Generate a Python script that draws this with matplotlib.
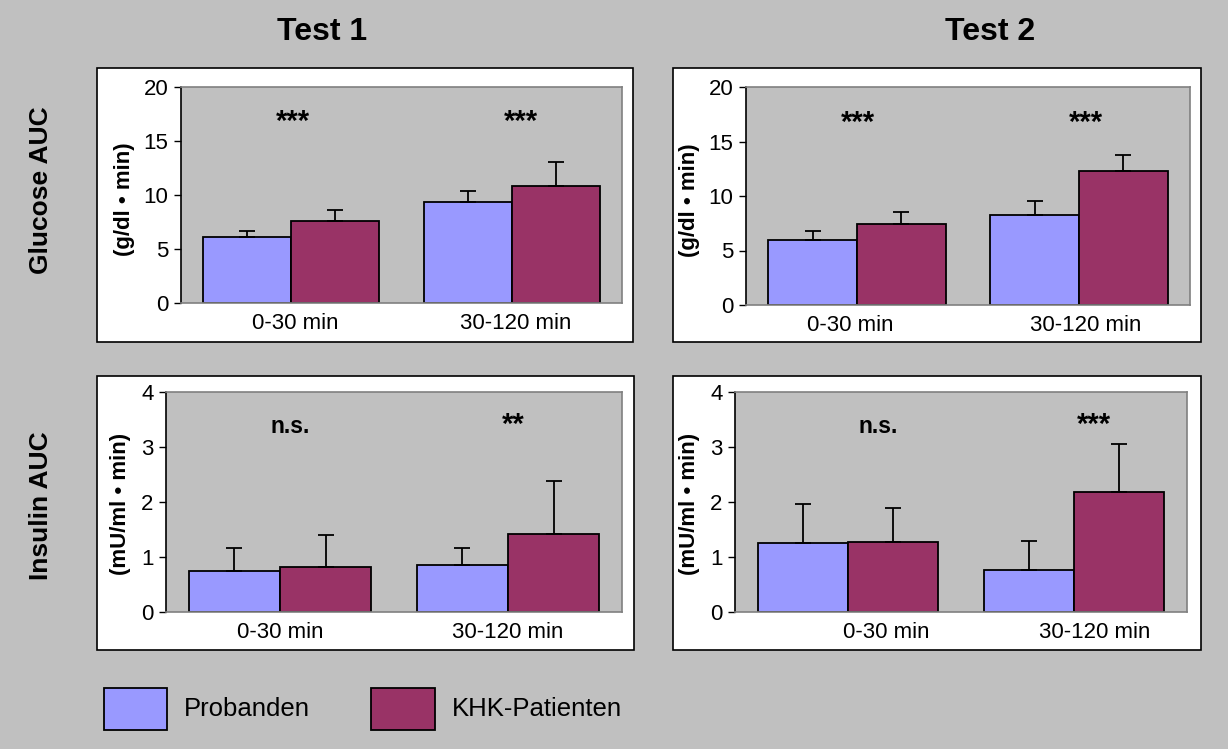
import numpy as np
import matplotlib
matplotlib.use('Agg')
import matplotlib.pyplot as plt
from matplotlib.patches import Rectangle
import matplotlib.transforms as mtransforms

plt.rcParams['font.family'] = ['Liberation Sans', 'DejaVu Sans']

# data
categories = ['0-30 min', '30-120 min']
groups = ['Probanden', 'KHK-Patienten']

glucose_t1_prob = [6.1, 9.35]
glucose_t1_prob_err = [0.6, 1.05]
glucose_t1_khk = [7.55, 10.85]
glucose_t1_khk_err = [1.05, 2.2]

glucose_t2_prob = [6.0, 8.3]
glucose_t2_prob_err = [0.75, 1.2]
glucose_t2_khk = [7.45, 12.25]
glucose_t2_khk_err = [1.05, 1.5]

insulin_t1_prob = [0.75, 0.85]
insulin_t1_prob_err = [0.41, 0.31]
insulin_t1_khk = [0.82, 1.42]
insulin_t1_khk_err = [0.58, 0.97]

insulin_t2_prob = [1.25, 0.76]
insulin_t2_prob_err = [0.71, 0.53]
insulin_t2_khk = [1.28, 2.18]
insulin_t2_khk_err = [0.62, 0.88]

sig_glucose_t1 = ['***', '***']
sig_glucose_t2 = ['***', '***']
sig_insulin_t1 = ['n.s.', '**']
sig_insulin_t2 = ['n.s.', '***']

BG = '#C0C0C0'
C_PROB = '#9999FF'
C_KHK = '#993366'

W, H = 1228, 749
fig = plt.figure(figsize=(W / 100, H / 100), dpi=100)
fig.patch.set_facecolor(BG)


def frac(x0, y0, x1, y1):
    # pixel box (top-left origin) -> figure fraction rect
    return [x0 / W, 1 - y1 / H, (x1 - x0) / W, (y1 - y0) / H]


def panel(frame, plot, prob, prob_err, khk, khk_err, sig, ymax, ystep, ylabel,
          label_x, label_y, sig_y, shift_tick, shift_sig):
    r = frac(*frame)
    fig.patches.append(Rectangle((r[0], r[1]), r[2], r[3], transform=fig.transFigure,
                                 facecolor='white', edgecolor='black', lw=1.2, zorder=-5))
    ax = fig.add_axes(frac(*plot))
    ax.set_facecolor(BG)
    x = np.arange(len(categories))
    w = 0.4
    ax.bar(x - w / 2, prob, w, color=C_PROB, edgecolor='black', lw=1.3, zorder=2)
    ax.bar(x + w / 2, khk, w, color=C_KHK, edgecolor='black', lw=1.3, zorder=2)
    ax.errorbar(x - w / 2, prob, yerr=[np.zeros(2), prob_err], fmt='none',
                ecolor='black', elinewidth=1.3, capsize=6, capthick=1.3, zorder=3)
    ax.errorbar(x + w / 2, khk, yerr=[np.zeros(2), khk_err], fmt='none',
                ecolor='black', elinewidth=1.3, capsize=6, capthick=1.3, zorder=3)
    ax.set_xlim(-0.5, len(categories) - 0.5)
    ax.set_ylim(0, ymax)
    ax.set_yticks(np.arange(0, ymax + ystep / 2, ystep))
    # excel placed the category labels a bit off-centre in some panels
    px_per_cat = (plot[2] - plot[0]) / len(categories)
    ax.set_xticks(x + np.array(shift_tick) / px_per_cat)
    ax.set_xticklabels(categories, fontsize=16)
    ax.tick_params(axis='x', length=0, pad=7)
    ax.tick_params(axis='y', length=5, width=1, direction='out', labelsize=16, pad=4)
    for s in ['top', 'right', 'bottom']:
        ax.spines[s].set_color('#808080')
        ax.spines[s].set_linewidth(1.2)
    ax.spines['left'].set_color('black')
    ax.spines['left'].set_linewidth(1.2)
    ax.set_ylabel(ylabel, fontsize=16, fontweight='bold')
    ax.yaxis.set_label_coords(label_x / W, label_y,
                              transform=mtransforms.blended_transform_factory(fig.transFigure, ax.transAxes))
    for xi, s, dx in zip(x, sig, shift_sig):
        fs = 21 if s.startswith('*') else 16.5
        ax.annotate(s, (xi, sig_y), xytext=(dx * 0.72, 0), textcoords='offset points',
                    ha='center', va='baseline', fontsize=fs, fontweight='bold')
    return ax


panel((97, 68, 633, 342), (181, 87, 622, 303),
      glucose_t1_prob, glucose_t1_prob_err, glucose_t1_khk, glucose_t1_khk_err,
      sig_glucose_t1, 20, 5, '(g/dl \u2022 min)', 135, 0.48, 16.0, (4, 4), (2, 9))
panel((673, 68, 1201, 342), (746, 87, 1190, 305),
      glucose_t2_prob, glucose_t2_prob_err, glucose_t2_khk, glucose_t2_khk_err,
      sig_glucose_t2, 20, 5, '(g/dl \u2022 min)', 700, 0.48, 16.0, (-7, 7), (1, 7))
panel((97, 376, 634, 650), (166, 392, 622, 612),
      insulin_t1_prob, insulin_t1_prob_err, insulin_t1_khk, insulin_t1_khk_err,
      sig_insulin_t1, 4, 1, '(mU/ml \u2022 min)', 131, 0.49, 3.25, (0, 0), (10, 5))
panel((673, 376, 1201, 650), (735, 392, 1187, 612),
      insulin_t2_prob, insulin_t2_prob_err, insulin_t2_khk, insulin_t2_khk_err,
      sig_insulin_t2, 4, 1, '(mU/ml \u2022 min)', 700, 0.49, 3.25, (38, 21), (30, 20))

# column and row headers
fig.text(322 / W, 1 - 32 / H, 'Test 1', ha='center', va='center', fontsize=23, fontweight='bold')
fig.text(990 / W, 1 - 32 / H, 'Test 2', ha='center', va='center', fontsize=23, fontweight='bold')
fig.text(41 / W, 1 - 190 / H, 'Glucose AUC', ha='center', va='center', rotation=90,
         fontsize=19, fontweight='bold')
fig.text(41 / W, 1 - 506 / H, 'Insulin AUC', ha='center', va='center', rotation=90,
         fontsize=19, fontweight='bold')

# legend
for (x0, x1), col, name in zip([(104, 167), (371, 435)], [C_PROB, C_KHK], groups):
    r = frac(x0, 688, x1, 730)
    fig.patches.append(Rectangle((r[0], r[1]), r[2], r[3], transform=fig.transFigure,
                                 facecolor=col, edgecolor='black', lw=1.3))
    fig.text((x1 + 17) / W, 1 - 709 / H, name, ha='left', va='center', fontsize=18.5)

fig.savefig('out.png', dpi=100, facecolor=BG)
